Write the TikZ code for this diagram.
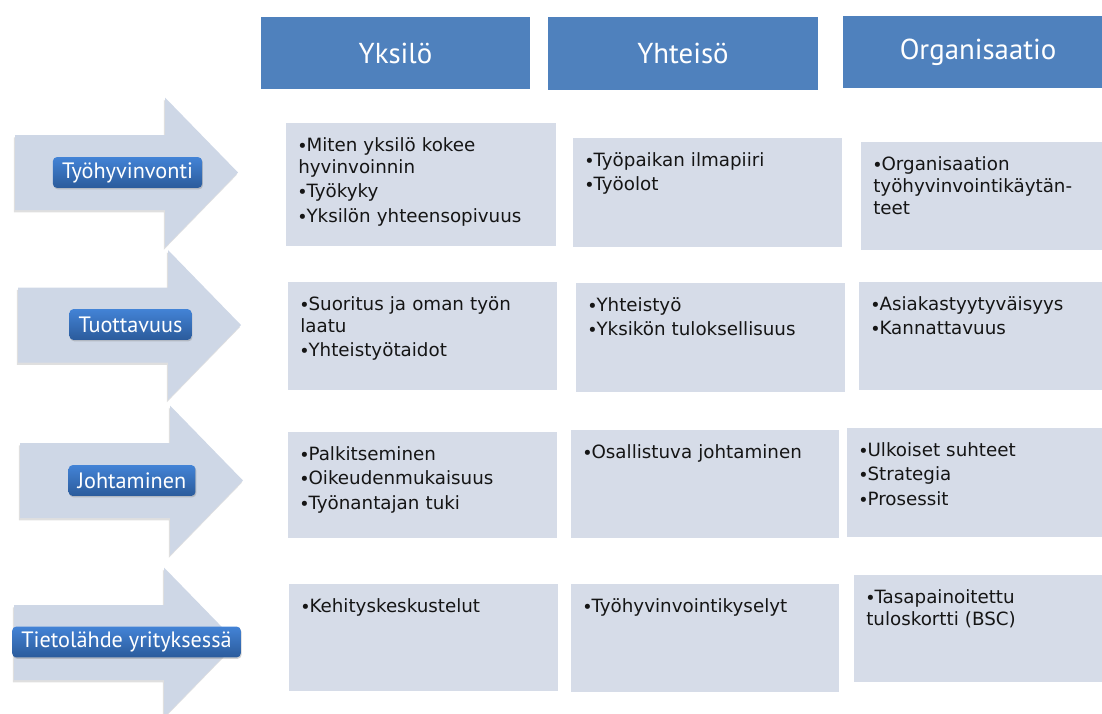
\documentclass[tikz,border=0pt]{standalone}
\usepackage{fontspec}
\setmainfont{PT Sans}
\newfontfamily\cellfont{DejaVu Sans}
\usetikzlibrary{shadows}
\definecolor{headblue}{HTML}{4F81BD}
\definecolor{cellfill}{HTML}{D6DCE8}
\definecolor{arrowfill}{HTML}{CED7E6}
\definecolor{tagtop}{HTML}{4383D6}
\definecolor{tagbottom}{HTML}{2B5B9B}
\definecolor{cellink}{HTML}{151515}
\newlength{\bulletwd}
\newcommand{\bulletsym}{{\rmfamily\textbullet}}
\newcommand{\itm}[1]{\ifvmode\noindent\fi\settowidth{\bulletwd}{\bulletsym}\hangindent=\bulletwd\hangafter=1\bulletsym#1\par}
\newcommand{\rowarrow}[2]{%
  \fill[arrowfill, drop shadow={shadow xshift=-0.8pt, shadow yshift=-1.6pt, opacity=0.25}]
    (#1,{-#2+37.5}) -- ({#1+150},{-#2+37.5}) -- ({#1+150},{-#2+75})
    -- ({#1+223},-#2) -- ({#1+150},{-#2-75}) -- ({#1+150},{-#2-37.5})
    -- (#1,{-#2-37.5}) -- cycle;
}
\newcommand{\cell}[6]{%
  \node[cellbox, minimum width={(#4-#2)*0.025cm}, minimum height={(#5-#3)*0.025cm}, anchor=north west] (#1) at (#2,-#3) {};
  \node[celltext, anchor=base west] (#1txt) at ([xshift=0.3cm, yshift=-0.7cm]#1.north west) {#6};
}

\begin{document}
\begin{tikzpicture}[x=0.025cm, y=0.025cm,
  headbox/.style={fill=headblue, text=white, inner sep=0pt, font=\fontsize{20.5pt}{24pt}\selectfont},
  cellbox/.style={fill=cellfill, inner sep=0pt},
  celltext/.style={text=cellink, inner sep=0pt, text width=7cm, align=left, font=\cellfont\fontsize{13pt}{15.65pt}\selectfont\setlength{\parskip}{2.1pt}},
  tag/.style={rounded corners=3pt, top color=tagtop, bottom color=tagbottom, text=white, inner xsep=6.5pt, inner ysep=0pt, minimum height=22pt, font=\fontsize{15.8pt}{18pt}\selectfont, drop shadow={shadow xshift=0.6pt, shadow yshift=-1pt, opacity=0.35}}]

  \useasboundingbox (0,0) rectangle (1102,-713);
  \clip (0,0) rectangle (1102,-713);

  \node[headbox, minimum width=269*0.025cm, minimum height=72*0.025cm] (yksilo) at (395.5,-53) {Yksilö};
  \node[headbox, minimum width=270*0.025cm, minimum height=73*0.025cm] (yhteiso) at (683,-53.5) {Yhteisö};
  \node[headbox, minimum width=270*0.025cm, minimum height=72*0.025cm] (organisaatio) at (978,-52) {Organisaatio};

  \rowarrow{15}{172.5}
  \rowarrow{18}{325}
  \rowarrow{20}{480.5}
  \rowarrow{14}{642.5}

  \node[tag] (tyohyvinvointi) at (127.5,-172.5) {Työhyvinvonti};
  \node[tag] (tuottavuus) at (130.5,-324.5) {Tuottavuus};
  \node[tag] (johtaminen) at (132,-480.5) {Johtaminen};
  \node[tag] (tietolahde) at (126.5,-642) {Tietolähde yrityksessä};

  \cell{c11}{286}{123}{556}{246}{\itm{Miten yksilö kokee\\hyvinvoinnin}\itm{Työkyky}\itm{Yksilön yhteensopivuus}}
  \cell{c12}{573}{138}{842}{247}{\itm{Työpaikan ilmapiiri}\itm{Työolot}}
  \cell{c13}{861}{142}{1130}{250}{\itm{Organisaation\\työhyvinvointikäytän-\\teet}}

  \cell{c21}{288}{282}{557}{390}{\itm{Suoritus ja oman työn\\laatu}\itm{Yhteistyötaidot}}
  \cell{c22}{576}{283}{845}{392}{\itm{Yhteistyö}\itm{Yksikön tuloksellisuus}}
  \cell{c23}{859}{282}{1130}{390}{\itm{Asiakastyytyväisyys}\itm{Kannattavuus}}

  \cell{c31}{288}{432}{557}{538}{\itm{Palkitseminen}\itm{Oikeudenmukaisuus}\itm{Työnantajan tuki}}
  \cell{c32}{571}{430}{839}{538}{\itm{Osallistuva johtaminen}}
  \cell{c33}{847}{428}{1130}{537}{\itm{Ulkoiset suhteet}\itm{Strategia}\itm{Prosessit}}

  \cell{c41}{289}{584}{558}{691}{\itm{Kehityskeskustelut}}
  \cell{c42}{571}{584}{839}{692}{\itm{Työhyvinvointikyselyt}}
  \cell{c43}{854}{575}{1130}{682}{\itm{Tasapainoitettu\\tuloskortti (BSC)}}

\end{tikzpicture}
\end{document}
